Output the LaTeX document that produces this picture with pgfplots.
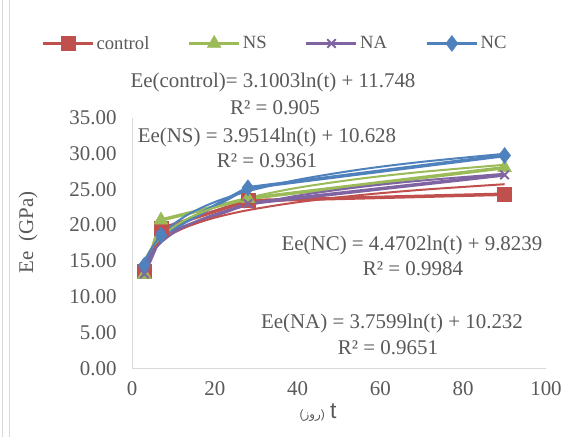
\documentclass[border=0pt]{standalone}
\usepackage{fontspec}
\setmainfont{Liberation Serif}
\newfontfamily\labelsans{Liberation Sans}
\newfontfamily\arabicfont[Script=Arabic]{DejaVu Sans}
\TeXXeTstate=1
\usepackage{pgfplots}
\pgfplotsset{compat=1.18}
\definecolor{txt}{HTML}{595959}
\definecolor{axgray}{HTML}{D9D9D9}
\definecolor{cred}{HTML}{C0504D}
\definecolor{cgreen}{HTML}{9BBB59}
\definecolor{cpurple}{HTML}{8064A2}
\definecolor{cblue}{HTML}{4F81BD}
\newcommand{\lblfont}{\fontsize{21}{24}\selectfont}
\begin{document}
\begin{tikzpicture}
\begin{axis}[name=ax,
  scale only axis, width=414bp, height=251bp,
  xmin=0, xmax=100, ymin=0, ymax=35,
  xtick={0,20,...,100}, ytick={0,5,...,35},
  axis lines=left,
  axis line style={draw=axgray, line width=0.75bp, -},
  major tick length=0pt,
  clip=false,
  /pgf/number format/assume math mode=true,
  tick label style={font=\lblfont, text=txt},
  yticklabel style={/pgf/number format/fixed, /pgf/number format/fixed zerofill,
    /pgf/number format/precision=2, xshift=-12bp},
  xticklabel style={yshift=-10bp},
  legend style={at={(axis description cs:0.345,1.295)}, anchor=center,
    draw=none, fill=none, legend columns=4,
    font=\fontsize{18.7}{20}\selectfont, text=txt,
    /tikz/every even column/.append style={column sep=36bp}},
  legend cell align=left,
  legend image code/.code={\draw[mark repeat=2,mark phase=2,#1]
    plot coordinates {(0bp,0bp)(25bp,0bp)(50bp,0bp)};},
]
% measured series
\addplot[cred, line width=3.5bp, mark=square*, mark size=7bp,
  mark options={solid, line width=0.5bp}]
  coordinates {(3,13.6)(7,19.5)(28,23.4)(90,24.3)};
\addlegendentry{control}
\addplot[cgreen, line width=3.5bp, mark=triangle*, mark size=8bp,
  mark options={solid, line width=0.5bp}]
  coordinates {(3,13.1)(7,20.7)(28,23.7)(90,28.0)};
\addlegendentry{NS}
\addplot[cpurple, line width=3.5bp, mark=x, mark size=6bp,
  mark options={solid, line width=2bp}]
  coordinates {(3,13.2)(7,18.6)(28,23.0)(90,27.0)};
\addlegendentry{NA}
\addplot[cblue, line width=3.5bp, mark=diamond*, mark size=8bp,
  mark options={solid, line width=0.5bp}]
  coordinates {(3,14.4)(7,18.6)(28,25.2)(90,29.7)};
\addlegendentry{NC}
% log trendlines, values from the printed equations
\addplot[cred, line width=2bp, smooth, forget plot] coordinates {
  (3,15.154)(4,16.046)(5,16.738)(7,17.781)(10,18.887)(14,19.930)
  (20,21.036)(28,22.079)(40,23.185)(55,24.172)(70,24.920)(90,25.699)};
\addplot[cgreen, line width=2bp, smooth, forget plot] coordinates {
  (3,14.969)(4,16.106)(5,16.987)(7,18.317)(10,19.726)(14,21.056)
  (20,22.465)(28,23.795)(40,25.204)(55,26.462)(70,27.415)(90,28.408)};
\addplot[cpurple, line width=2bp, smooth, forget plot] coordinates {
  (3,14.363)(4,15.444)(5,16.283)(7,17.548)(10,18.890)(14,20.155)
  (20,21.496)(28,22.761)(40,24.102)(55,25.299)(70,26.206)(90,27.151)};
\addplot[cblue, line width=2bp, smooth, forget plot] coordinates {
  (3,14.735)(4,16.021)(5,17.018)(7,18.523)(10,20.117)(14,21.621)
  (20,23.215)(28,24.720)(40,26.314)(55,27.738)(70,28.816)(90,29.939)};
\end{axis}
\path ([shift={(-132bp,-68bp)}]ax.south west) rectangle ([shift={(443bp,368bp)}]ax.south west);
\draw[axgray, line width=1bp] ([shift={(-129bp,-68bp)}]ax.south west) -- ++(0,436bp);
\draw[axgray, line width=1bp] ([shift={(-122bp,-68bp)}]ax.south west) -- ++(0,436bp);
\begin{scope}[every node/.style={font=\lblfont, text=txt, inner sep=0pt}]
\node at ([shift={(141bp,286bp)}]ax.south west) {Ee(control)= 3.1003ln(t) + 11.748};
\node at ([shift={(143bp,261bp)}]ax.south west) {R² = 0.905};
\node at ([shift={(135bp,231bp)}]ax.south west) {Ee(NS) = 3.9514ln(t) + 10.628};
\node at ([shift={(135bp,208bp)}]ax.south west) {R² = 0.9361};
\node at ([shift={(280bp,123bp)}]ax.south west) {Ee(NC) = 4.4702ln(t) + 9.8239};
\node at ([shift={(281bp,100bp)}]ax.south west) {R² = 0.9984};
\node at ([shift={(260bp,45bp)}]ax.south west) {Ee(NA) = 3.7599ln(t) + 10.232};
\node at ([shift={(256bp,21bp)}]ax.south west) {R² = 0.9651};
\node[rotate=90] at ([shift={(-104bp,136bp)}]ax.south west) {Ee~~(GPa)};
\node[anchor=base] at ([shift={(186bp,-50bp)}]ax.south west)
  {{\labelsans\fontsize{12}{14}\selectfont(}{\arabicfont\fontsize{12}{14}\selectfont\beginR روز\endR}{\labelsans\fontsize{12}{14}\selectfont)}~{\labelsans\fontsize{23}{26}\selectfont t}};
\end{scope}
\end{tikzpicture}
\end{document}
